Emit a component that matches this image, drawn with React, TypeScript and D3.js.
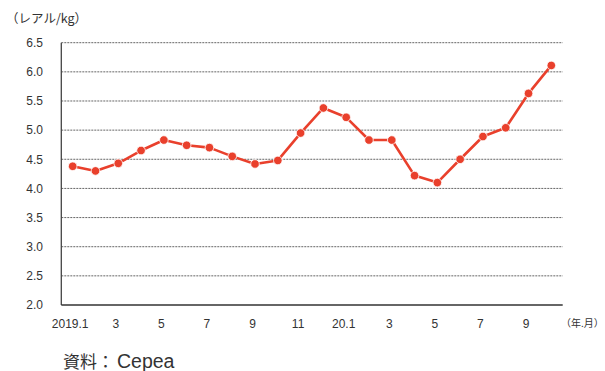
import React from "react";
import * as d3 from "d3";

// Monthly price, 2019.1 – 2020.10 (レアル/kg)
const months = [
  "2019.1", "2019.2", "2019.3", "2019.4", "2019.5", "2019.6", "2019.7", "2019.8",
  "2019.9", "2019.10", "2019.11", "2019.12", "2020.1", "2020.2", "2020.3", "2020.4",
  "2020.5", "2020.6", "2020.7", "2020.8", "2020.9", "2020.10",
];
const prices = [
  4.38, 4.3, 4.43, 4.65, 4.83, 4.74, 4.7, 4.55, 4.42, 4.48, 4.95,
  5.38, 5.22, 4.83, 4.83, 4.22, 4.1, 4.5, 4.89, 5.04, 5.63, 6.11,
];
// Axis labels shown every other month
const xTickLabels: Record<string, string> = {
  "2019.1": "2019.1", "2019.3": "3", "2019.5": "5", "2019.7": "7", "2019.9": "9",
  "2019.11": "11", "2020.1": "20.1", "2020.3": "3", "2020.5": "5", "2020.7": "7",
  "2020.9": "9",
};
const yTicks = [2.0, 2.5, 3.0, 3.5, 4.0, 4.5, 5.0, 5.5, 6.0, 6.5];

const W = 605;
const H = 371;
const left = 61.3;
const right = 562.7;
const top = 42.7;
const bottom = 305;

const RED = "#e9402c";
const FONT = "'Liberation Sans', Arial, sans-serif";
const JP = "'Noto Sans CJK JP', sans-serif";

export default function App() {
  const x = d3.scaleBand<string>().domain(months).range([left, right]);
  const y = d3.scaleLinear().domain([2, 6.5]).range([bottom, top]);
  const cx = (m: string) => (x(m) ?? 0) + x.bandwidth() / 2;

  const line = d3
    .line<number>()
    .x((_, i) => cx(months[i]))
    .y((d) => y(d));

  return (
    <svg
      width={W}
      height={H}
      style={{ position: "absolute", left: 0, top: 0, background: "#fff" }}
    >
      {/* unit label */}
      <text x={6} y={23} fontFamily={JP} fontSize={12.5} fill="#333">
        （レアル/kg）
      </text>

      {/* horizontal grid */}
      {yTicks.slice(1).map((t) => (
        <line
          key={t}
          x1={left}
          x2={right}
          y1={y(t)}
          y2={y(t)}
          stroke="#666"
          strokeWidth={1}
          strokeDasharray="2 1"
        />
      ))}

      {/* axes */}
      <line x1={left} x2={left} y1={top} y2={bottom} stroke="#444" strokeWidth={1.3} />
      <line x1={left} x2={right} y1={bottom} y2={bottom} stroke="#333" strokeWidth={1.5} />

      {/* y tick labels */}
      {yTicks.map((t) => (
        <text
          key={t}
          x={43}
          y={y(t) + 4.3}
          textAnchor="end"
          fontFamily={FONT}
          fontSize={12}
          fill="#333"
        >
          {t.toFixed(1)}
        </text>
      ))}

      {/* x tick labels */}
      {months
        .filter((m) => xTickLabels[m])
        .map((m) => (
          <text
            key={m}
            x={cx(m) - 2.5}
            y={327.5}
            textAnchor="middle"
            fontFamily={FONT}
            fontSize={12}
            fill="#333"
          >
            {xTickLabels[m]}
          </text>
        ))}
      <text x={561} y={327} fontFamily={JP} fontSize={10} fill="#333">
        （年.月）
      </text>

      {/* price series */}
      <path d={line(prices) ?? ""} fill="none" stroke={RED} strokeWidth={2.6} strokeLinejoin="round" />
      {prices.map((v, i) => (
        <circle
          key={months[i]}
          cx={cx(months[i])}
          cy={y(v)}
          r={4.3}
          fill={RED}
          stroke="#fff"
          strokeWidth={0.8}
        />
      ))}

      {/* source */}
      <text x={63} y={367.5} fontFamily={JP} fontSize={17} fill="#333">
        資料：
        <tspan dx={3} fontFamily={FONT} fontSize={19.5}>
          Cepea
        </tspan>
      </text>
    </svg>
  );
}
